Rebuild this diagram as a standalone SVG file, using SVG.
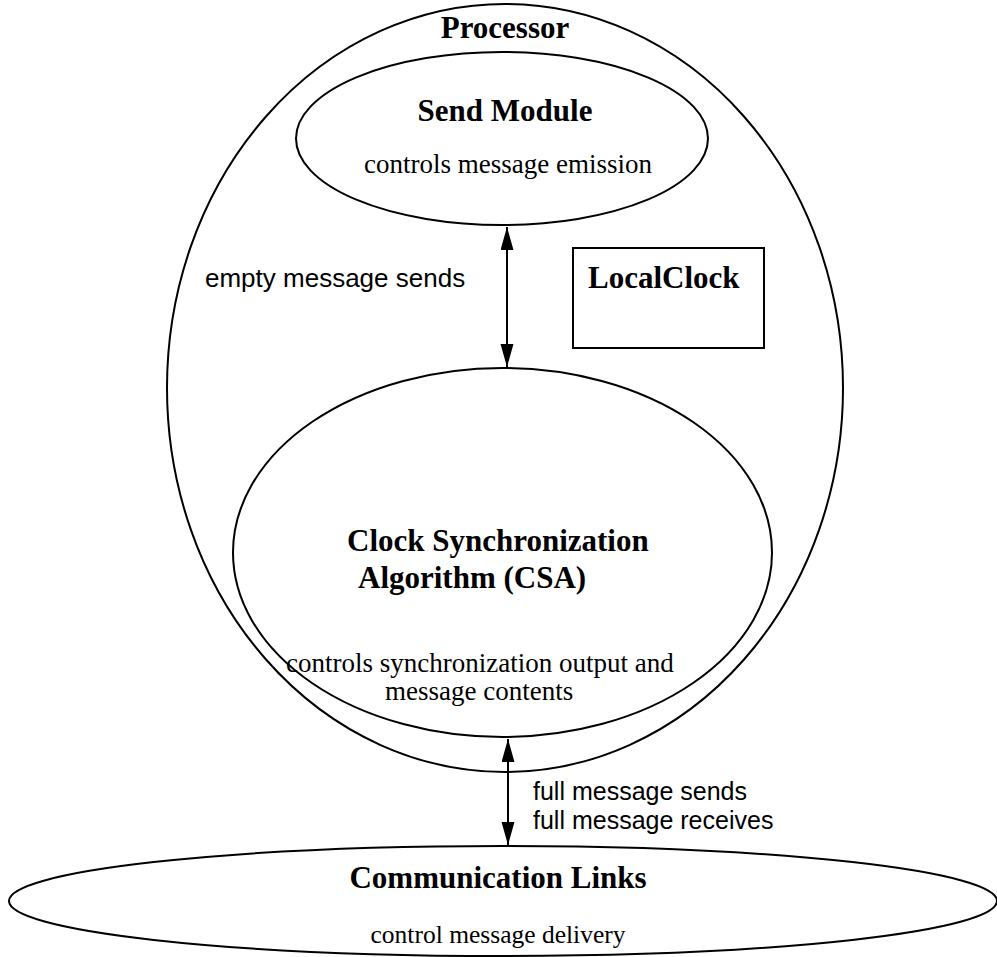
<svg xmlns="http://www.w3.org/2000/svg" width="997" height="957" viewBox="0 0 997 957">
<style>
.shape{fill:none;stroke:#000;stroke-width:2}
.b{font-family:"Liberation Serif",serif;font-weight:bold;font-size:31px;fill:#000}
.r{font-family:"Liberation Serif",serif;font-size:27px;fill:#000}
.s{font-family:"Liberation Sans",sans-serif;font-size:26px;fill:#000}
.c{text-anchor:middle}
.conn{stroke:#000;stroke-width:2;fill:none}
</style>
<defs>
<marker id="ah" markerUnits="userSpaceOnUse" markerWidth="24" markerHeight="14" refX="23" refY="6.5" orient="auto-start-reverse">
<path d="M0,0 L23,6.5 L0,13 Z" fill="#000"/>
</marker>
</defs>
<rect width="997" height="957" fill="#fff"/>
<g id="processor">
<ellipse class="shape" cx="505" cy="388" rx="338" ry="384"/>
<text class="b c" x="505" y="38">Processor</text>
</g>
<g id="send-module">
<ellipse class="shape" cx="502" cy="138.5" rx="206" ry="86.5"/>
<text class="b c" x="505" y="121">Send Module</text>
<text class="r c" x="508" y="173">controls message emission</text>
</g>
<g id="local-clock">
<rect class="shape" x="573" y="248" width="191" height="100"/>
<text class="b" x="588" y="288">LocalClock</text>
</g>
<g id="csa">
<ellipse class="shape" cx="502.5" cy="552.5" rx="269.5" ry="184.5"/>
<text class="b" x="347" y="551">Clock Synchronization</text>
<text class="b" x="358" y="588">Algorithm (CSA)</text>
<text class="r" x="286" y="672">controls synchronization output and</text>
<text class="r" x="385" y="700">message contents</text>
</g>
<g id="communication-links">
<ellipse class="shape" cx="503" cy="901" rx="494" ry="55"/>
<text class="b c" x="498" y="888">Communication Links</text>
<text class="r c" x="498" y="943" style="font-size:25.5px">control message delivery</text>
</g>
<g id="connectors">
<line class="conn" x1="507" y1="227" x2="507" y2="367" marker-start="url(#ah)" marker-end="url(#ah)"/>
<text class="s" x="205" y="287">empty message sends</text>
<line class="conn" x1="508" y1="739" x2="508" y2="845" marker-start="url(#ah)" marker-end="url(#ah)"/>
<text class="s" x="533" y="800" style="font-size:25px">full message sends</text>
<text class="s" x="533" y="829" style="font-size:25px">full message receives</text>
</g>
</svg>
